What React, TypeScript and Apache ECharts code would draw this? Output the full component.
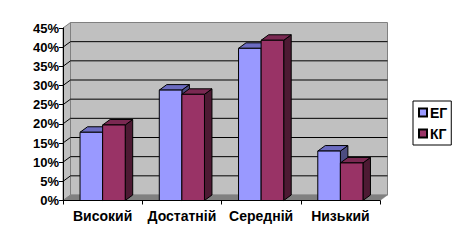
import React, { useEffect, useRef } from "react";
import * as echarts from "echarts";

const categories = ["Високий", "Достатній", "Середній", "Низький"];
const seriesNames = ["ЕГ", "КГ"];
const egValues = [0.178, 0.288, 0.397, 0.129];
const kgValues = [0.197, 0.277, 0.418, 0.098];
const yMin = 0;
const yMax = 0.45;
const yStep = 0.05;

const DX = 7.5;
const DY = -5.5;
const FONT = "'Liberation Sans', Arial, sans-serif";

const palettes = [
  { front: "#9999FF", top: "#6B6BC0", side: "#4C4C80" },
  { front: "#993366", top: "#7A2952", side: "#4D1A33" },
];

function makeBarSeries(name: string, values: number[], idx: number) {
  const pal = palettes[idx];
  return {
    type: "custom",
    name,
    z: 5,
    itemStyle: { color: pal.front, borderColor: "#000", borderWidth: 1 },
    data: values.map((v, i) => [i, v]),
    renderItem: (params: any, api: any) => {
      const cat = api.value(0);
      const v = api.value(1);
      const base = api.coord([cat, 0]);
      const top = api.coord([cat, v]);
      const band = api.size([1, 0])[0];
      const w = band * 0.285;
      const x0 = idx === 0 ? base[0] - w : base[0];
      const x1 = x0 + w;
      const yB = base[1];
      const yT = top[1];
      const stroke = { stroke: "#000", lineWidth: 1 };
      return {
        type: "group",
        children: [
          {
            type: "polygon",
            shape: { points: [[x1, yT], [x1 + DX, yT + DY], [x1 + DX, yB + DY], [x1, yB]] },
            style: { fill: pal.side, ...stroke },
          },
          {
            type: "polygon",
            shape: { points: [[x0, yT], [x1, yT], [x1 + DX, yT + DY], [x0 + DX, yT + DY]] },
            style: { fill: pal.top, ...stroke },
          },
          {
            type: "rect",
            shape: { x: x0, y: yT, width: w, height: yB - yT },
            style: { fill: pal.front, ...stroke },
          },
        ],
      };
    },
  };
}

export default function App() {
  const ref = useRef<HTMLDivElement>(null);
  useEffect(() => {
    if (!ref.current) return;
    const chart = echarts.init(ref.current, undefined, { renderer: "svg" });
    const wallsSeries = {
      type: "custom",
      z: 1,
      silent: true,
      data: [[0, 0]],
      renderItem: (params: any, api: any) => {
        const cs = params.coordSys;
        const x = cs.x;
        const yt = cs.y;
        const w = cs.width;
        const h = cs.height;
        const yb = yt + h;
        const children: any[] = [];
        children.push({
          type: "rect",
          shape: { x: x + DX, y: yt + DY, width: w, height: h },
          style: { fill: "#C0C0C0", stroke: "#808080", lineWidth: 1 },
        });
        children.push({
          type: "polygon",
          shape: { points: [[x, yb], [x, yt], [x + DX, yt + DY], [x + DX, yb + DY]] },
          style: { fill: "#C0C0C0", stroke: "#808080", lineWidth: 1 },
        });
        for (let t = yMin + yStep; t <= yMax - yStep / 2; t += yStep) {
          const py = api.coord([0, t])[1];
          children.push({
            type: "line",
            shape: { x1: x + DX, y1: py + DY, x2: x + w + DX, y2: py + DY },
            style: { stroke: "#000", lineWidth: 1 },
          });
          children.push({
            type: "line",
            shape: { x1: x, y1: py, x2: x + DX, y2: py + DY },
            style: { stroke: "#000", lineWidth: 1 },
          });
        }
        children.push({
          type: "polygon",
          shape: { points: [[x, yb], [x + w, yb], [x + w + DX, yb + DY], [x + DX, yb + DY]] },
          style: { fill: "#808080", stroke: "#808080", lineWidth: 0.5 },
        });
        return { type: "group", children };
      },
    };

    chart.setOption({
      animation: false,
      backgroundColor: "#fff",
      grid: { left: 63, top: 28, width: 317, height: 172.5 },
      legend: {
        orient: "vertical",
        left: 413,
        top: 101,
        data: seriesNames.map((n) => ({ name: n, icon: "rect" })),
        itemWidth: 8,
        itemHeight: 8,
        itemGap: 6,
        padding: [4, 4, 4, 5],
        borderColor: "#000",
        borderWidth: 1,
        backgroundColor: "#fff",
        textStyle: { fontFamily: FONT, fontWeight: "bold", fontSize: 14, color: "#000", lineHeight: 15, padding: [0, 0, 0, -2] },
        selectedMode: false,
      },
      xAxis: {
        type: "category",
        data: categories,
        z: 10,
        axisLine: { show: true, lineStyle: { color: "#000", width: 1 } },
        axisTick: { show: true, length: 4, interval: 0, lineStyle: { color: "#000" } },
        axisLabel: { fontFamily: FONT, fontWeight: "bold", fontSize: 14, color: "#000", margin: 8, interval: 0 },
        splitLine: { show: false },
      },
      yAxis: {
        type: "value",
        min: yMin,
        max: yMax,
        interval: yStep,
        z: 10,
        axisLine: { show: true, lineStyle: { color: "#000", width: 1 } },
        axisTick: { show: true, length: 4, lineStyle: { color: "#000" } },
        axisLabel: {
          fontFamily: FONT,
          fontWeight: "bold",
          fontSize: 13,
          color: "#000",
          margin: 4,
          formatter: (v: number) => Math.round(v * 100) + "%",
        },
        splitLine: { show: false },
      },
      series: [
        wallsSeries,
        makeBarSeries(seriesNames[0], egValues, 0),
        makeBarSeries(seriesNames[1], kgValues, 1),
      ],
    });
    return () => chart.dispose();
  }, []);
  return (
    <div
      ref={ref}
      style={{ position: "absolute", left: 0, top: 0, width: 461, height: 245 }}
    />
  );
}
